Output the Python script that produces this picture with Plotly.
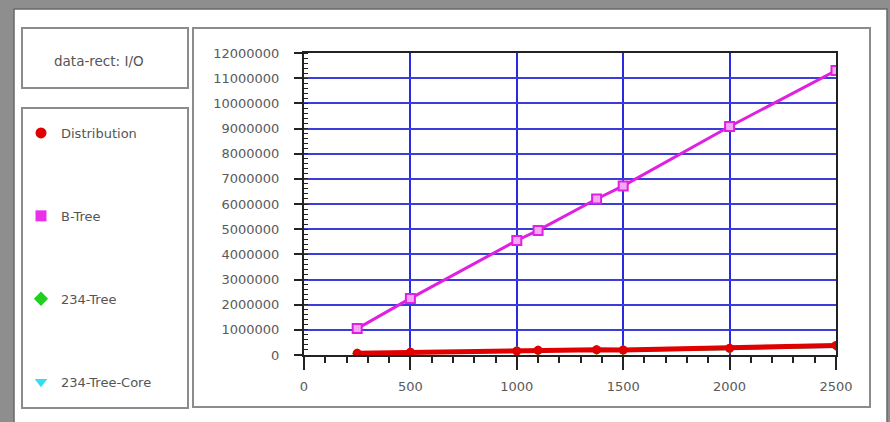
import plotly.graph_objects as go

# ---- data ----
sizes = [250, 500, 1000, 1100, 1375, 1500, 2000, 2500]
btree = [1050000, 2250000, 4550000, 4950000, 6200000, 6720000, 9080000, 11300000]
distribution = [70000, 110000, 160000, 190000, 210000, 200000, 270000, 380000]
tree234 = [60000, 100000, 150000, 180000, 200000, 190000, 260000, 360000]
tree234core = [50000, 90000, 140000, 170000, 190000, 180000, 250000, 340000]
x_ticks = [0, 500, 1000, 1500, 2000, 2500]
y_ticks = list(range(0, 13000000, 1000000))
title_text = "data-rect: I/O"
series_names = ["Distribution", "B-Tree", "234-Tree", "234-Tree-Core"]

W, H = 890, 422
PX0, PX1, PY0, PY1 = 304, 836, 53, 355  # plot area in pixels


def px(x):
    return (x - PX0) / (PX1 - PX0)


def py(y):
    return (PY1 - y) / (PY1 - PY0)


font = "DejaVu Sans, Verdana, sans-serif"
fig = go.Figure()

# hidden-under traces
fig.add_trace(go.Scatter(x=sizes, y=tree234core, mode="lines+markers", showlegend=False,
                         line=dict(color="#30e0f0", width=3), marker=dict(symbol="triangle-down", size=8, color="#30e0f0")))
fig.add_trace(go.Scatter(x=sizes, y=tree234, mode="lines+markers", showlegend=False,
                         line=dict(color="#20d020", width=3), marker=dict(symbol="diamond", size=8, color="#20d020")))
fig.add_trace(go.Scatter(x=sizes, y=distribution, mode="lines+markers", showlegend=False,
                         line=dict(color="#e00000", width=5), marker=dict(symbol="circle", size=9, color="#e00000")))
fig.add_trace(go.Scatter(x=sizes, y=btree, mode="lines+markers", showlegend=False,
                         line=dict(color="#e020e0", width=3),
                         marker=dict(symbol="square", size=9, color="#f4a8f4", line=dict(color="#e020e0", width=2))))

# legend-only entries
leg = [("circle", "#e00000"), ("square", "#e830e8"), ("diamond", "#20d020"), ("triangle-down", "#30e0f0")]
for i, (name, (sym, col)) in enumerate(zip(series_names, leg)):
    fig.add_trace(go.Scatter(x=[None], y=[None], mode="markers", name=name, legendgroup=name,
                             marker=dict(symbol=sym, size=11, color=col)))

shapes = []
# outer white panel
shapes.append(dict(type="rect", xref="paper", yref="paper", layer="below",
                   x0=px(14), x1=px(887), y0=py(9), y1=py(430),
                   fillcolor="white", line=dict(color="#6a6a6a", width=1.5)))
# title box, legend box, chart panel
for (a, b, c, d) in [(22, 188, 28, 88), (22, 188, 108, 408), (193, 870, 28, 407)]:
    shapes.append(dict(type="rect", xref="paper", yref="paper", layer="below",
                       x0=px(a), x1=px(b), y0=py(c), y1=py(d),
                       fillcolor="white", line=dict(color="#8c8c8c", width=2)))

fig.update_layout(
    width=W, height=H,
    margin=dict(l=PX0, r=W - PX1, t=PY0, b=H - PY1),
    paper_bgcolor="#8e8e8e", plot_bgcolor="white",
    shapes=shapes,
    font=dict(family=font, size=13, color="#555"),
    annotations=[dict(text=title_text, xref="paper", yref="paper", x=px(99), y=py(61),
                      xanchor="center", yanchor="middle",
                      showarrow=False, font=dict(family=font, size=13.5, color="#555"))],
    legend=dict(x=px(21), y=py(118), xanchor="left", yanchor="top", bgcolor="rgba(0,0,0,0)",
                font=dict(family=font, size=13, color="#555"), tracegroupgap=63,
                traceorder="grouped", itemwidth=30),
)
fig.update_xaxes(range=[0, 2500], tickvals=x_ticks, showgrid=True, gridcolor="#2a2ae0", gridwidth=1.5,
                 zeroline=False, showline=True, mirror=True, linecolor="#222", linewidth=2,
                 ticks="outside", ticklen=13, tickwidth=1.5, tickcolor="#222", ticklabelstandoff=5,
                 tickfont=dict(size=13, color="#5a5a5a"),
                 minor=dict(dtick=100, ticks="outside", ticklen=6, tickcolor="#222", tickwidth=1.5, showgrid=False))
fig.update_yaxes(range=[0, 12000000], tickvals=y_ticks, tickformat="d", showgrid=True, gridcolor="#3c3cd8",
                 gridwidth=1.5, zeroline=False, showline=True, mirror=True, linecolor="#222", linewidth=2,
                 ticks="outside", ticklen=8, tickwidth=1.5, tickcolor="#222", ticklabelstandoff=12,
                 tickfont=dict(size=13, color="#5a5a5a"),
                 minor=dict(dtick=200000, ticks="inside", ticklen=4, tickcolor="#222", tickwidth=1, showgrid=False))

fig.write_html("out.html", config={"displayModeBar": False},
               post_script="document.body.style.margin='0';document.body.style.background='#8e8e8e';")
